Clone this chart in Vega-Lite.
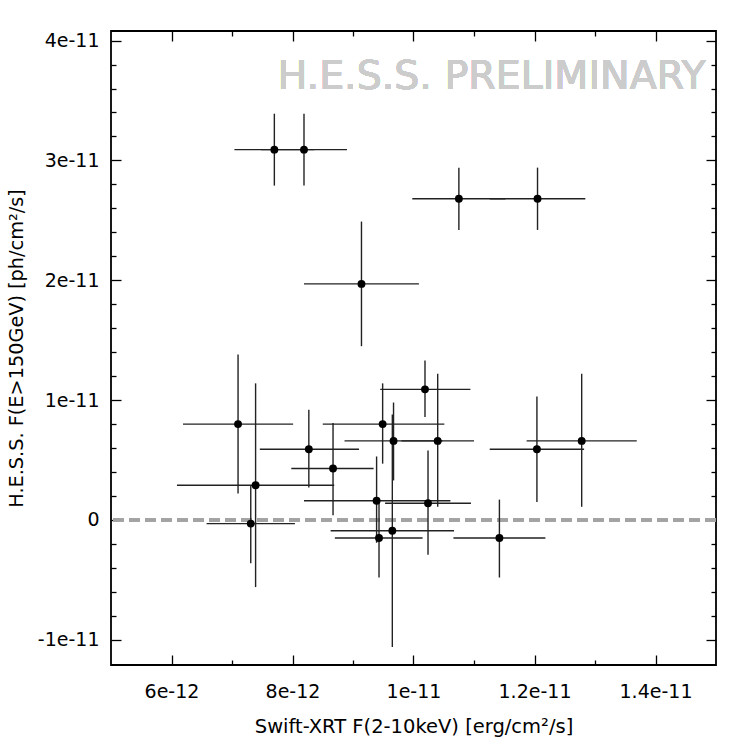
{
  "$schema": "https://vega.github.io/schema/vega-lite/v6.json",
  "width": 605,
  "height": 634,
  "autosize": "none",
  "padding": {"left": 111, "top": 31, "right": 31, "bottom": 82},
  "background": "white",
  "config": {
    "view": {"stroke": "black", "strokeWidth": 1.8},
    "axis": {"grid": false, "domain": false, "tickColor": "black", "tickWidth": 1.3, "labelFont": "DejaVu Sans", "labelFontSize": 19, "labelColor": "black", "titleFont": "DejaVu Sans", "titleFontWeight": "normal", "titleColor": "black"}
  },
  "data": {
    "values": [
      {"id": "A", "x": 7.70e-12, "xlo": 7.04e-12, "xhi": 8.36e-12, "y": 3.09e-11, "ylo": 2.79e-11, "yhi": 3.39e-11},
      {"id": "B", "x": 8.19e-12, "xlo": 7.48e-12, "xhi": 8.90e-12, "y": 3.09e-11, "ylo": 2.79e-11, "yhi": 3.39e-11},
      {"id": "C", "x": 10.75e-12, "xlo": 9.98e-12, "xhi": 11.52e-12, "y": 2.68e-11, "ylo": 2.42e-11, "yhi": 2.94e-11},
      {"id": "D", "x": 12.05e-12, "xlo": 11.26e-12, "xhi": 12.84e-12, "y": 2.68e-11, "ylo": 2.42e-11, "yhi": 2.94e-11},
      {"id": "E", "x": 9.14e-12, "xlo": 8.19e-12, "xhi": 10.09e-12, "y": 1.97e-11, "ylo": 1.45e-11, "yhi": 2.49e-11},
      {"id": "F", "x": 7.10e-12, "xlo": 6.19e-12, "xhi": 8.01e-12, "y": 0.80e-11, "ylo": 0.22e-11, "yhi": 1.38e-11},
      {"id": "G", "x": 7.39e-12, "xlo": 6.09e-12, "xhi": 8.69e-12, "y": 0.29e-11, "ylo": -0.56e-11, "yhi": 1.14e-11},
      {"id": "H", "x": 7.31e-12, "xlo": 6.58e-12, "xhi": 8.04e-12, "y": -0.03e-11, "ylo": -0.36e-11, "yhi": 0.29e-11},
      {"id": "I", "x": 8.27e-12, "xlo": 7.46e-12, "xhi": 9.10e-12, "y": 0.59e-11, "ylo": 0.27e-11, "yhi": 0.92e-11},
      {"id": "J", "x": 8.67e-12, "xlo": 7.98e-12, "xhi": 9.34e-12, "y": 0.43e-11, "ylo": 0.04e-11, "yhi": 0.81e-11},
      {"id": "K", "x": 9.49e-12, "xlo": 8.50e-12, "xhi": 10.51e-12, "y": 0.80e-11, "ylo": 0.47e-11, "yhi": 1.14e-11},
      {"id": "L", "x": 9.67e-12, "xlo": 8.86e-12, "xhi": 10.48e-12, "y": 0.66e-11, "ylo": 0.33e-11, "yhi": 0.98e-11},
      {"id": "M", "x": 9.39e-12, "xlo": 8.19e-12, "xhi": 10.61e-12, "y": 0.16e-11, "ylo": -0.19e-11, "yhi": 0.53e-11},
      {"id": "N", "x": 9.43e-12, "xlo": 8.70e-12, "xhi": 10.15e-12, "y": -0.15e-11, "ylo": -0.48e-11, "yhi": 0.17e-11},
      {"id": "O", "x": 9.65e-12, "xlo": 8.63e-12, "xhi": 10.67e-12, "y": -0.09e-11, "ylo": -1.06e-11, "yhi": 0.88e-11},
      {"id": "P", "x": 10.19e-12, "xlo": 9.45e-12, "xhi": 10.94e-12, "y": 1.09e-11, "ylo": 0.86e-11, "yhi": 1.33e-11},
      {"id": "Q", "x": 10.40e-12, "xlo": 9.80e-12, "xhi": 11.00e-12, "y": 0.66e-11, "ylo": 0.11e-11, "yhi": 1.22e-11},
      {"id": "R", "x": 10.24e-12, "xlo": 9.53e-12, "xhi": 10.95e-12, "y": 0.14e-11, "ylo": -0.29e-11, "yhi": 0.58e-11},
      {"id": "S", "x": 11.42e-12, "xlo": 10.66e-12, "xhi": 12.18e-12, "y": -0.15e-11, "ylo": -0.48e-11, "yhi": 0.17e-11},
      {"id": "T", "x": 12.04e-12, "xlo": 11.26e-12, "xhi": 12.82e-12, "y": 0.59e-11, "ylo": 0.15e-11, "yhi": 1.03e-11},
      {"id": "U", "x": 12.78e-12, "xlo": 11.87e-12, "xhi": 13.69e-12, "y": 0.66e-11, "ylo": 0.11e-11, "yhi": 1.22e-11}
    ]
  },
  "layer": [
    {
      "mark": {"type": "rule", "color": "#a3a3a3", "strokeWidth": 2.5, "strokeDash": [11, 5]},
      "encoding": {
        "y": {"datum": 0, "type": "quantitative", "scale": {"domain": [-1.21e-11, 4.08e-11], "nice": false, "zero": false}, "axis": null}
      }
    },
    {
      "mark": {"type": "rule", "color": "#222222", "strokeWidth": 1.4},
      "encoding": {
        "x": {"field": "xlo", "type": "quantitative", "scale": {"domain": [5e-12, 1.5e-11], "nice": false, "zero": false},
          "axis": {"orient": "bottom", "values": [6e-12, 8e-12, 1e-11, 1.2e-11, 1.4e-11], "tickSize": -10, "labelPadding": 27, "labelExpr": "datum.value === 0 ? '0' : replace(format(datum.value, '~e'), '\u2212', '-')", "title": "Swift-XRT F(2-10keV) [erg/cm²/s]", "titleFontSize": 19.5, "titlePadding": 16}},
        "x2": {"field": "xhi"},
        "y": {"field": "y", "type": "quantitative",
          "axis": {"orient": "left", "values": [-1e-11, 0, 1e-11, 2e-11, 3e-11, 4e-11], "tickSize": -10, "labelPadding": 22, "labelExpr": "datum.value === 0 ? '0' : replace(format(datum.value, '~e'), '\u2212', '-')", "title": "H.E.S.S.  F(E>150GeV) [ph/cm²/s]", "titleFontSize": 19.3, "titlePadding": 11}}
      }
    },
    {
      "mark": {"type": "rule", "color": "#222222", "strokeWidth": 1.4},
      "encoding": {
        "x": {"field": "x", "type": "quantitative",
          "axis": {"orient": "bottom", "values": [7e-12, 9e-12, 1.1e-11, 1.3e-11], "tickSize": -5, "labels": false, "title": null}},
        "y": {"field": "ylo", "type": "quantitative",
          "axis": {"orient": "left", "values": [-8e-12, -6e-12, -4e-12, -2e-12, 2e-12, 4e-12, 6e-12, 8e-12, 1.2e-11, 1.4e-11, 1.6e-11, 1.8e-11, 2.2e-11, 2.4e-11, 2.6e-11, 2.8e-11, 3.2e-11, 3.4e-11, 3.6e-11, 3.8e-11], "tickSize": -5, "labels": false, "title": null}},
        "y2": {"field": "yhi"}
      }
    },
    {
      "mark": {"type": "circle", "color": "black", "opacity": 1, "size": 62},
      "encoding": {
        "x": {"field": "x", "type": "quantitative",
          "axis": {"orient": "top", "values": [6e-12, 8e-12, 1e-11, 1.2e-11, 1.4e-11], "tickSize": -10, "labels": false, "title": null}},
        "y": {"field": "y", "type": "quantitative",
          "axis": {"orient": "right", "values": [-1e-11, 0, 1e-11, 2e-11, 3e-11, 4e-11], "tickSize": -10, "labels": false, "title": null}}
      }
    },
    {
      "mark": {"type": "text", "text": "H.E.S.S. PRELIMINARY", "font": "DejaVu Sans", "fontSize": 39.5, "color": "#cccccc", "align": "right", "baseline": "alphabetic"},
      "encoding": {
        "x": {"datum": 1.483e-11, "type": "quantitative",
          "axis": {"orient": "top", "values": [7e-12, 9e-12, 1.1e-11, 1.3e-11], "tickSize": -5, "labels": false, "title": null}},
        "y": {"datum": 3.6e-11, "type": "quantitative",
          "axis": {"orient": "right", "values": [-8e-12, -6e-12, -4e-12, -2e-12, 2e-12, 4e-12, 6e-12, 8e-12, 1.2e-11, 1.4e-11, 1.6e-11, 1.8e-11, 2.2e-11, 2.4e-11, 2.6e-11, 2.8e-11, 3.2e-11, 3.4e-11, 3.6e-11, 3.8e-11], "tickSize": -5, "labels": false, "title": null}}
      }
    }
  ],
  "resolve": {"axis": {"x": "independent", "y": "independent"}}
}
